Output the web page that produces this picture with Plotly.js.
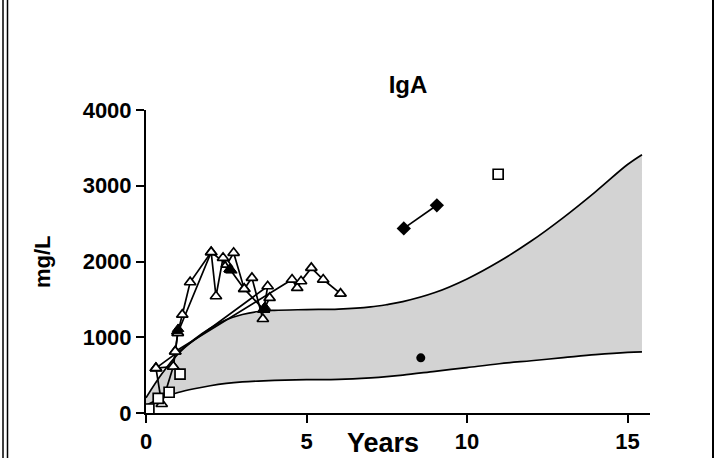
<!DOCTYPE html>
<html>
<head>
<meta charset="utf-8">
<script src="https://cdn.plot.ly/plotly-3.0.1.min.js"></script>
<style>html,body{margin:0;padding:0;background:#fff;}#chart{width:720px;height:458px;}</style>
</head>
<body>
<div id="chart"></div>
<script>
// Reference band (age-related range)
var bandX     = [0, 0.5, 1, 1.5, 2, 2.5, 3, 3.5, 4, 5, 6, 7, 7.5, 8, 9, 10, 11, 12, 13, 14, 15, 15.45];
var bandLower = [100, 200, 270, 320, 360, 390, 410, 422, 430, 440, 445, 465, 480, 500, 550, 600, 650, 690, 730, 770, 800, 807];
var bandUpper = [200, 520, 780, 970, 1120, 1230, 1300, 1340, 1355, 1365, 1372, 1400, 1430, 1470, 1590, 1770, 2000, 2270, 2580, 2920, 3280, 3410];

// Patient series (open triangles)
var p1X = [0.31, 0.49, 0.85, 0.91, 0.99, 1.13, 1.375, 2.03, 2.18, 2.40, 2.62, 3.06, 3.30, 3.64];
var p1Y = [592, 119, 613, 812, 1056, 1298, 1726, 2123, 1541, 2049, 1894, 1638, 1784, 1241];
var p2X = [0.31, 0.85, 0.99, 2.03, 2.52, 2.73, 3.06, 3.67, 3.85];
var p2Y = [592, 613, 1056, 2123, 1960, 2115, 1638, 1364, 1519];
var p3X = [0.31, 3.79, 3.67];
var p3Y = [592, 1673, 1364];
var p4X = [0.91, 4.55, 4.71, 4.83, 5.15, 5.52, 6.06];
var p4Y = [812, 1762, 1651, 1739, 1916, 1762, 1576];
// Filled triangles
var ftX = [0.97, 1.0, 2.60, 2.66, 3.66, 3.70];
var ftY = [1080, 1110, 1900, 1880, 1364, 1400];
// Open squares
var sqX = [0.09, 0.38, 0.72, 1.06, 10.97];
var sqY = [53, 194, 274, 512, 3152];
// Filled diamonds
var dmX = [8.03, 9.06];
var dmY = [2437, 2742];
// Filled circle
var ciX = [8.56];
var ciY = [728];

var xTicks = [0, 5, 10, 15];
var yTicks = [0, 1000, 2000, 3000, 4000];

var lineStyle = {color: '#000', width: 1.7};
var triMarker = {symbol: 'triangle-up', size: 10, color: '#fff', line: {color: '#000', width: 1.7}};

function triTrace(x, y) {
  return {x: x, y: y, mode: 'lines+markers', type: 'scatter', line: lineStyle, marker: triMarker, hoverinfo: 'x+y'};
}

var traces = [
  {x: bandX, y: bandLower, mode: 'lines', type: 'scatter', line: {color: '#000', width: 1.7, shape: 'spline'}},
  {x: bandX, y: bandUpper, mode: 'lines', type: 'scatter', fill: 'tonexty', fillcolor: '#d3d3d3', line: {color: '#000', width: 1.7, shape: 'spline'}},
  triTrace(p3X, p3Y),
  triTrace(p4X, p4Y),
  triTrace(p2X, p2Y),
  triTrace(p1X, p1Y),
  {x: ftX, y: ftY, mode: 'markers', type: 'scatter', marker: {symbol: 'triangle-up', size: 10, color: '#000', line: {color: '#000', width: 1}}},
  {x: sqX, y: sqY, mode: 'markers', type: 'scatter', marker: {symbol: 'square', size: 10, color: '#fff', line: {color: '#000', width: 1.7}}},
  {x: dmX, y: dmY, mode: 'lines+markers', type: 'scatter', line: lineStyle, marker: {symbol: 'diamond', size: 11, color: '#000'}},
  {x: ciX, y: ciY, mode: 'markers', type: 'scatter', marker: {symbol: 'circle', size: 9, color: '#000'}}
];

var L = 146, R = 650, T = 110, B = 413;
function px2paperX(p) { return (p - L) / (R - L); }
function px2paperY(p) { return (B - p) / (B - T); }

var layout = {
  width: 720, height: 458,
  margin: {l: L, r: 720 - R, t: T, b: 458 - B},
  paper_bgcolor: '#fff', plot_bgcolor: '#fff',
  showlegend: false,
  font: {family: 'Arial, Liberation Sans, sans-serif', color: '#000'},
  title: {text: '<b>IgA</b>', font: {size: 24, color: '#000'}, x: 408 / 720, xanchor: 'center', y: 1 - 85 / 458, yanchor: 'middle'},
  xaxis: {
    range: [0, 15.7], tickvals: xTicks, ticktext: xTicks.map(function (v) { return '<b>' + v + '</b>'; }),
    showgrid: false, zeroline: false, showline: true, linecolor: '#000', linewidth: 2,
    ticks: 'outside', ticklen: 8, tickwidth: 2, tickcolor: '#000',
    tickfont: {size: 22, color: '#000'}
  },
  yaxis: {
    range: [0, 4000], tickvals: yTicks, ticktext: yTicks.map(function (v) { return '<b>' + v + '</b>'; }),
    showgrid: false, zeroline: false, showline: true, linecolor: '#000', linewidth: 2,
    ticks: 'outside', ticklen: 8, tickwidth: 2, tickcolor: '#000',
    tickfont: {size: 22, color: '#000'}
  },
  annotations: [
    {text: '<b>Years</b>', xref: 'paper', yref: 'paper', x: px2paperX(383), y: px2paperY(443), xanchor: 'center', yanchor: 'middle', showarrow: false, font: {size: 27, color: '#000'}},
    {text: '<b>mg/L</b>', xref: 'paper', yref: 'paper', x: px2paperX(42), y: px2paperY(262), xanchor: 'center', yanchor: 'middle', textangle: -90, showarrow: false, font: {size: 22, color: '#000'}}
  ],
  shapes: [
    {type: 'line', xref: 'paper', yref: 'paper', x0: px2paperX(3), x1: px2paperX(3), y0: px2paperY(0), y1: px2paperY(458), line: {color: '#000', width: 1.5}},
    {type: 'line', xref: 'paper', yref: 'paper', x0: px2paperX(7.5), x1: px2paperX(7.5), y0: px2paperY(0), y1: px2paperY(458), line: {color: '#000', width: 1.5}},
    {type: 'line', xref: 'paper', yref: 'paper', x0: px2paperX(713), x1: px2paperX(713), y0: px2paperY(0), y1: px2paperY(458), line: {color: '#000', width: 2}}
  ]
};

Plotly.newPlot('chart', traces, layout, {displayModeBar: false, staticPlot: true});
</script>
</body>
</html>
